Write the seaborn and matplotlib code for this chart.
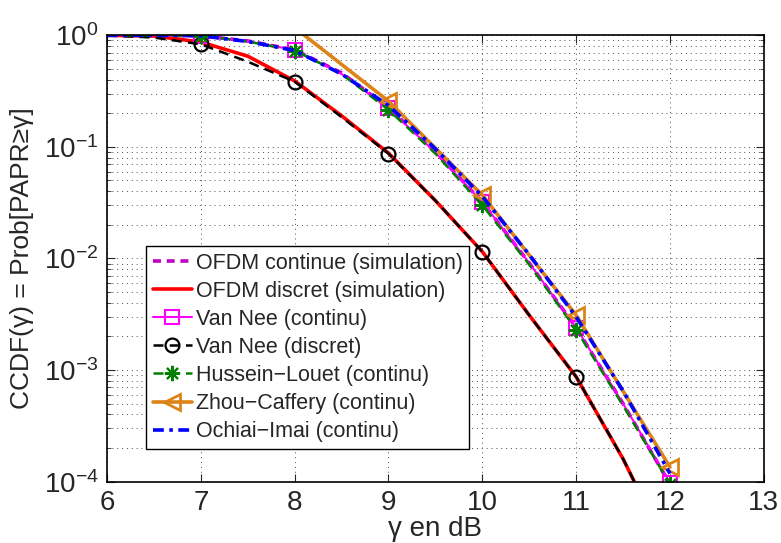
import matplotlib
matplotlib.use("Agg")
import matplotlib.pyplot as plt
import seaborn as sns
import numpy as np

# gamma grid (dB) for the smooth curves
gamma = [6, 6.5, 7, 7.5, 8, 8.5, 9, 9.5, 10, 10.5, 11, 11.5, 12]
gamma_disc = [6, 6.5, 7, 7.5, 8, 8.5, 9, 9.5, 10, 10.5, 11, 11.5, 11.75]
gamma_zhou = [8, 9, 10, 11, 12]

ofdm_cont_sim = [1.0, 0.999, 0.99, 0.89, 0.74, 0.46, 0.225, 0.09, 0.032, 0.0091, 0.0024, 0.0005, 0.000095]
ofdm_disc_sim = [1.0, 0.985, 0.87, 0.65, 0.39, 0.19, 0.088, 0.033, 0.0115, 0.0031, 0.00087, 0.00016, 0.00006]
van_nee_cont = [1.0, 0.999, 0.99, 0.88, 0.74, 0.45, 0.222, 0.089, 0.032, 0.0091, 0.0024, 0.0005, 0.000098]
van_nee_disc = [0.995, 0.955, 0.83, 0.58, 0.384, 0.185, 0.087, 0.033, 0.0115, 0.0031, 0.00087, 0.00016, 0.00006]
hussein_louet = [1.0, 0.999, 0.99, 0.88, 0.73, 0.45, 0.215, 0.087, 0.030, 0.0088, 0.0023, 0.00048, 0.000095]
zhou_caffery = [1.17, 0.257, 0.037, 0.0031, 0.000135]
ochiai_imai = [1.0, 0.999, 0.99, 0.88, 0.73, 0.45, 0.235, 0.096, 0.036, 0.0108, 0.003, 0.00065, 0.000118]

labels = ["OFDM continue (simulation)", "OFDM discret (simulation)", "Van Nee (continu)",
          "Van Nee (discret)", "Hussein\u2212Louet (continu)", "Zhou\u2212Caffery (continu)",
          "Ochiai\u2212Imai (continu)"]

xticks = [6, 7, 8, 9, 10, 11, 12, 13]
yticks = [1e-4, 1e-3, 1e-2, 1e-1, 1e0]
ytick_labels = [r"$10^{-4}$", r"$10^{-3}$", r"$10^{-2}$", r"$10^{-1}$", r"$10^{0}$"]

sns.set_style("ticks")
plt.rcParams["font.family"] = ["Liberation Sans", "DejaVu Sans"]
plt.rcParams["mathtext.fontset"] = "custom"
plt.rcParams["mathtext.rm"] = "Liberation Sans"
plt.rcParams["mathtext.it"] = "Liberation Sans"
plt.rcParams["mathtext.default"] = "regular"

fig = plt.figure(figsize=(7.81, 5.43), dpi=100)
ax = fig.add_axes([0.137, 0.113, 0.841, 0.822])

orange = "#DC8418"
every = slice(2, None, 2)

sns.lineplot(x=gamma, y=ofdm_cont_sim, ax=ax, color="#C000C0", linestyle=(0, (2.2, 1.6)),
             linewidth=2.6, legend=False)
sns.lineplot(x=gamma_disc, y=ofdm_disc_sim, ax=ax, color="red", linestyle="-",
             linewidth=2.6, legend=False)
sns.lineplot(x=gamma, y=van_nee_cont, ax=ax, color="magenta", linestyle="-", linewidth=1.5,
             marker="s", markersize=10, markerfacecolor="none", markeredgecolor="magenta",
             markeredgewidth=1.5, markevery=every, legend=False)
sns.lineplot(x=gamma_disc, y=van_nee_disc, ax=ax, color="black", linestyle=(0, (4, 2.5)),
             linewidth=1.8, marker="o", markersize=10, markerfacecolor="none", markeredgecolor="black",
             markeredgewidth=1.6, markevery=slice(2, 11, 2), legend=False)
sns.lineplot(x=gamma, y=hussein_louet, ax=ax, color="green", linestyle=(0, (4, 2.5)),
             linewidth=1.8, marker=(8, 2, 0), markersize=11, markeredgecolor="green",
             markeredgewidth=1.5, markevery=every, legend=False)
sns.lineplot(x=gamma_zhou, y=zhou_caffery, ax=ax, color=orange, linestyle="-", linewidth=2.6,
             marker="<", markersize=11, markerfacecolor="none", markeredgecolor=orange,
             markeredgewidth=2, markevery=slice(1, None), legend=False)
sns.lineplot(x=gamma, y=ochiai_imai, ax=ax, color="blue", linestyle=(0, (3, 1.5, 1, 1.5)),
             linewidth=2.6, legend=False)

ax.set_yscale("log")
ax.set_xlim(6, 13)
ax.set_ylim(1e-4, 1)
ax.set_xticks(xticks)
ax.set_xticklabels([str(t) for t in xticks])
ax.set_yticks(yticks)
ax.set_yticklabels(ytick_labels)

ax.grid(True, which="major", axis="x", linestyle=(0, (1, 4)), color="0.3", linewidth=0.7)
ax.grid(True, which="both", axis="y", linestyle=(0, (1, 4)), color="0.3", linewidth=0.7)
ax.tick_params(axis="both", which="both", direction="in", top=True, right=True, labelsize=20)
ax.tick_params(axis="both", which="major", length=6, pad=6)
ax.tick_params(axis="y", which="minor", length=3)
for s in ax.spines.values():
    s.set_linewidth(1.2)
    s.set_color("black")

ax.set_xlabel("\u03b3 en dB", fontsize=20, labelpad=0)
ax.set_ylabel("CCDF(\u03b3) = Prob[PAPR\u2265\u03b3]", fontsize=19, labelpad=7)

lines = ax.get_lines()[:len(labels)]
leg = ax.legend(lines, labels, loc="lower left", bbox_to_anchor=(0.06, 0.074), fontsize=15.5,
                frameon=True, fancybox=False, edgecolor="black", framealpha=1, handlelength=1.8,
                handletextpad=0.2, labelspacing=0.33, borderpad=0.3, borderaxespad=0)
leg.get_frame().set_linewidth(1.0)

fig.savefig("out.png", dpi=100)
